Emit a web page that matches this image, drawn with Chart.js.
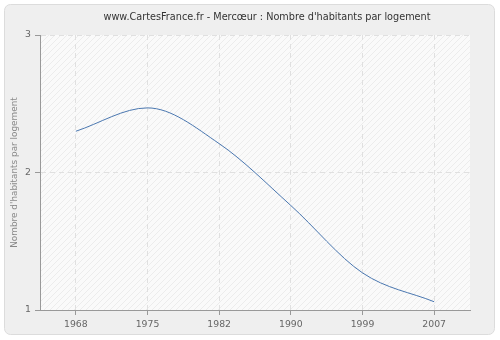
<!DOCTYPE html>
<html>
<head>
<meta charset="utf-8">
<script src="https://cdn.jsdelivr.net/npm/chart.js@4/dist/chart.umd.min.js"></script>
<style>
  html, body { margin: 0; padding: 0; background: #ffffff; }
  #wrap { width: 500px; height: 340px; }
</style>
</head>
<body>
<div id="wrap"><canvas id="canvas1" width="500" height="340"></canvas></div>
<script>
let years = ["1968", "1975", "1982", "1990", "1999", "2007"];
let habitantsParLogement = [2.30, 2.47, 2.21, 1.76, 1.27, 1.06];
let yTicks = [1, 2, 3];
let chartTitle = "www.CartesFrance.fr - Mercœur : Nombre d'habitants par logement";
let yTitle = "Nombre d'habitants par logement";
let fontFamily = "'DejaVu Sans', Tahoma, Verdana, sans-serif";

// light diagonal hatch used as plot background
function makeHatch() {
  let c = document.createElement("canvas");
  c.width = 6;
  c.height = 6;
  let g = c.getContext("2d");
  g.fillStyle = "#fafafa";
  g.fillRect(0, 0, 6, 6);
  g.strokeStyle = "#ececec";
  g.lineWidth = 1;
  g.beginPath();
  g.moveTo(0, 6);
  g.lineTo(6, 0);
  g.moveTo(-3, 3);
  g.lineTo(3, -3);
  g.moveTo(3, 9);
  g.lineTo(9, 3);
  g.stroke();
  return g.createPattern(c, "repeat");
}

let backdrop = {
  id: "backdrop",
  beforeDraw(chart) {
    let ctx = chart.ctx;
    let a = chart.chartArea;
    ctx.save();
    // outer rounded panel
    ctx.fillStyle = "#efefef";
    ctx.strokeStyle = "#dcdcdc";
    ctx.lineWidth = 1;
    ctx.beginPath();
    ctx.roundRect(4.5, 4.5, 490, 330, 6);
    ctx.fill();
    ctx.stroke();
    // plot area
    ctx.fillStyle = makeHatch();
    ctx.fillRect(a.left, a.top, a.right - a.left, a.bottom - a.top);
    // title
    ctx.fillStyle = "#333333";
    ctx.font = "9.7px " + fontFamily;
    ctx.textAlign = "center";
    ctx.textBaseline = "middle";
    ctx.fillText(chartTitle, 267, 17);
    ctx.restore();
  },
};

let config1 = {
  type: "line",
  data: {
    labels: years,
    datasets: [
      {
        data: habitantsParLogement,
        borderColor: "#4a77b0",
        borderWidth: 1,
        pointRadius: 0,
        fill: false,
        cubicInterpolationMode: "monotone",
      },
    ],
  },
  options: {
    responsive: false,
    animation: false,
    layout: { padding: { left: 0, top: 35, right: 30, bottom: 0 } },
    plugins: {
      legend: { display: false },
      title: { display: false },
      tooltip: { enabled: false },
    },
    scales: {
      x: {
        type: "category",
        offset: true,
        grid: {
          display: true,
          offset: false,
          color: "#e0e0e0",
          tickColor: "#999999",
          tickBorderDash: [],
          tickLength: 5,
        },
        border: { display: true, color: "#999999", width: 1, dash: [5, 4] },
        ticks: {
          color: "#666666",
          padding: 4,
          maxRotation: 0,
          font: { family: fontFamily, size: 9.3 },
        },
        afterFit(scale) {
          scale.height = 30;
        },
      },
      y: {
        min: 1,
        max: 3,
        afterBuildTicks(scale) {
          scale.ticks = yTicks.map((v) => ({ value: v }));
        },
        grid: {
          color: "#e0e0e0",
          tickColor: "#999999",
          tickBorderDash: [],
          tickLength: 5,
        },
        border: { display: true, color: "#999999", width: 1, dash: [5, 4] },
        ticks: {
          color: "#666666",
          padding: 4,
          font: { family: fontFamily, size: 9.3 },
        },
        title: {
          display: true,
          text: yTitle,
          color: "#888888",
          padding: { top: 9, bottom: 0 },
          font: { family: fontFamily, size: 8.9 },
        },
        afterFit(scale) {
          scale.width = 40;
        },
      },
    },
  },
  plugins: [backdrop],
};

let chart1 = new Chart(document.getElementById("canvas1").getContext("2d"), config1);
</script>
</body>
</html>
